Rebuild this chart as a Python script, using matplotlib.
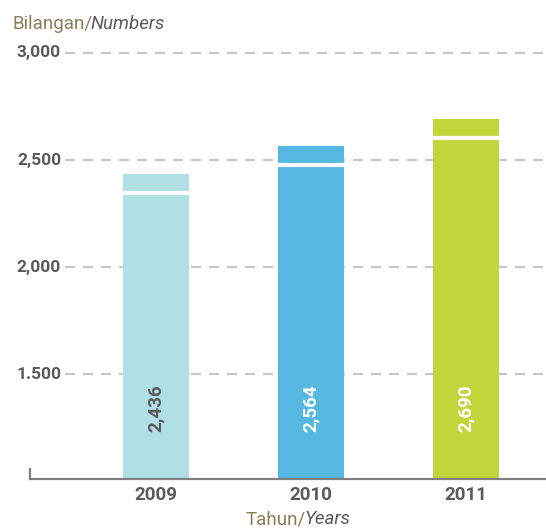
import matplotlib
matplotlib.use("Agg")
import matplotlib.pyplot as plt

years = ["2009", "2010", "2011"]
values = [2436, 2564, 2690]
value_labels = ["2,436", "2,564", "2,690"]
bar_colors = ["#b0dfe5", "#55b8e0", "#bfd73a"]
label_colors = ["#5a5a5a", "#ffffff", "#ffffff"]
yticks = [1500, 2000, 2500, 3000]
ytick_labels = ["1.500", "2,000", "2,500", "3,000"]

plt.rcParams['font.family'] = ['Roboto', 'DejaVu Sans']
fig = plt.figure(figsize=(5.46, 5.30), dpi=100)
ax = fig.add_axes([30/546, 1-479/530, 516/546, (479-53)/530])
ymin, ymax = 1010, 3000
ax.set_ylim(ymin, ymax)
xs = list(range(len(years)))
xl = -0.816
ax.set_xlim(xl, 2.52)

grid_c = "#c8c8c8"
for t, lab in zip(yticks, ytick_labels):
    ax.plot([-0.589, 2.52], [t, t], color=grid_c, lw=1.6, ls=(0, (4.5, 3.6)), zorder=1, clip_on=False)
    ax.text(-0.615, t, lab, ha="right", va="center", fontsize=12.5, fontweight="bold", color="#5a5a5a")

bw = 0.427
ax.bar(xs, [v - ymin for v in values], bottom=ymin, width=bw, color=bar_colors, zorder=2)
units_per_px = (ymax - ymin) / (479 - 53)
for x, v, lab, lc in zip(xs, values, value_labels, label_colors):
    ax.plot([x - bw/2, x + bw/2], [v - 17*units_per_px - 2*units_per_px]*2, color="white", lw=3, zorder=3, solid_capstyle="butt")
    ax.text(x, 1341, lab, rotation=90, ha="center", va="center", fontsize=13.5, fontweight="bold", color=lc, zorder=4)
    ax.text(x, ymin - 16*units_per_px, years[x], ha="center", va="center", fontsize=13.5, fontweight="bold", color="#5a5a5a")

for s in ["top", "right"]:
    ax.spines[s].set_visible(False)
ax.spines["left"].set_visible(False)
ax.spines["bottom"].set_color("#7f7f7f")
ax.spines["bottom"].set_linewidth(1.6)
ax.plot([xl, xl], [ymin, ymin + 11*units_per_px], color="#7f7f7f", lw=1.6, clip_on=False, solid_capstyle="butt")
ax.set_xticks([])
ax.set_yticks([])

olive = "#8b7d58"
t1 = fig.text(12/546, 1-24/530, "Bilangan/", fontsize=13.5, color=olive, ha="left", va="center")
fig.canvas.draw()
bb = t1.get_window_extent()
fig.text((bb.x1 - 2)/546, 1-24/530, "Numbers", fontsize=13.5, color="#5a5a5a", style="italic", ha="left", va="center")

fig.text(306/546, 1-519/530, "Tahun/", fontsize=13.5, color=olive, ha="right", va="center")
fig.text(304/546, 1-519/530, "Years", fontsize=13.5, color="#5a5a5a", style="italic", ha="left", va="center")

fig.savefig("out.png", dpi=100)
